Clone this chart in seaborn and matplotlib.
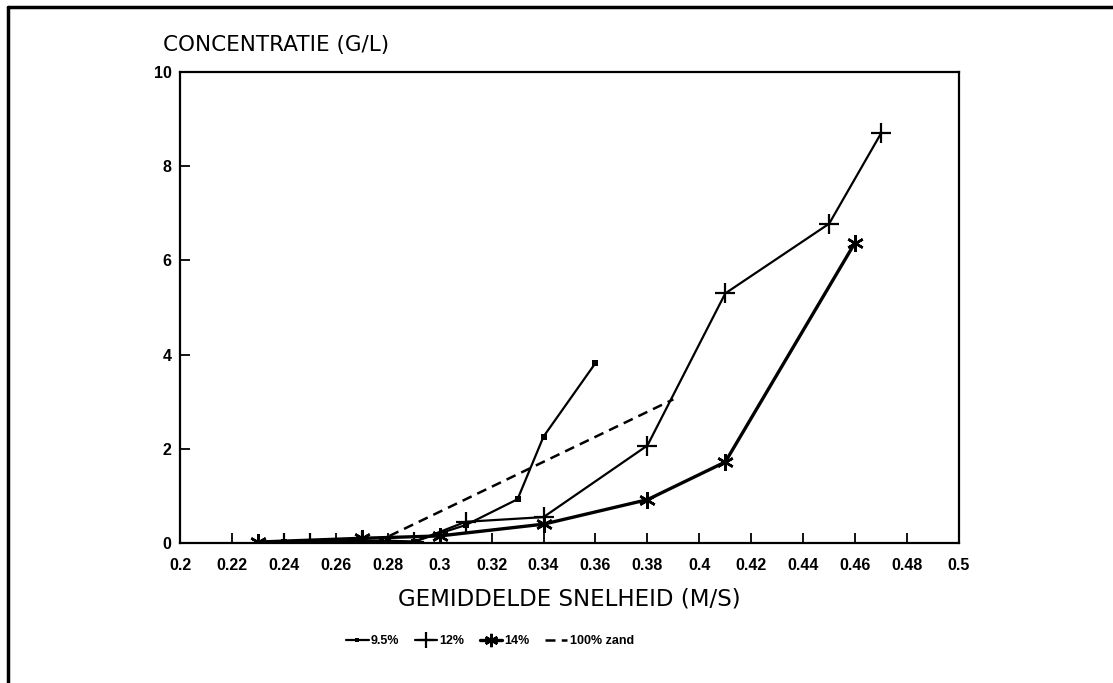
import matplotlib
matplotlib.use("Agg")
import matplotlib.pyplot as plt
from matplotlib.lines import Line2D
import seaborn as sns

# ---- data ----
x_95 = [0.24, 0.28, 0.29, 0.31, 0.33, 0.34, 0.36]
y_95 = [0.02, 0.05, 0.03, 0.38, 0.93, 2.26, 3.82]

x_12 = [0.24, 0.25, 0.27, 0.29, 0.31, 0.34, 0.38, 0.41, 0.45, 0.47]
y_12 = [0.0, 0.0, 0.05, 0.02, 0.45, 0.55, 2.07, 5.30, 6.78, 8.70]

x_14 = [0.23, 0.27, 0.30, 0.34, 0.38, 0.41, 0.46]
y_14 = [0.02, 0.10, 0.15, 0.40, 0.92, 1.72, 6.38]

x_zand = [0.275, 0.39]
y_zand = [0.0, 3.05]

labels = ["9.5%", "12%", "14%", "100% zand"]
x_ticks = [0.2, 0.22, 0.24, 0.26, 0.28, 0.3, 0.32, 0.34, 0.36, 0.38, 0.4,
           0.42, 0.44, 0.46, 0.48, 0.5]
x_ticklabels = ["0.2", "0.22", "0.24", "0.26", "0.28", "0.3", "0.32", "0.34",
                "0.36", "0.38", "0.4", "0.42", "0.44", "0.46", "0.48", "0.5"]
y_ticks = [0, 2, 4, 6, 8, 10]
x_label = "GEMIDDELDE SNELHEID (M/S)"
y_label = "CONCENTRATIE (G/L)"

sns.set_theme(style="white")
tick_font = ["Liberation Sans", "DejaVu Sans"]
plt.rcParams["font.family"] = ["DejaVu Sans"]
plt.rcParams["text.color"] = "black"

fig = plt.figure(figsize=(11.13, 6.83), dpi=100)
ax = fig.add_axes([180 / 1113, 1 - 543 / 683, (959 - 180) / 1113, (543 - 72) / 683])

sns.lineplot(x=x_95, y=y_95, ax=ax, color="black", sort=False, lw=1.6,
             marker="s", markersize=4, markeredgewidth=0, mfc="black", mec="black",
             label=labels[0])
sns.lineplot(x=x_12, y=y_12, ax=ax, color="black", sort=False, lw=1.6,
             marker="+", markersize=14, markeredgewidth=1.6, mec="black",
             label=labels[1])
sns.lineplot(x=x_14, y=y_14, ax=ax, color="black", sort=False, lw=2.4,
             marker=(6, 2, 0), markersize=12, markeredgewidth=1.8, mec="black",
             label=labels[2])
sns.lineplot(x=x_zand, y=y_zand, ax=ax, color="black", sort=False, lw=1.8,
             linestyle=(0, (4, 2.5)), label=labels[3])

ax.set_xlim(0.2, 0.5)
ax.set_ylim(0, 10)
ax.set_xticks(x_ticks)
ax.set_xticklabels(x_ticklabels)
ax.set_yticks(y_ticks)
for lab in ax.get_xticklabels() + ax.get_yticklabels():
    lab.set_fontfamily(tick_font)
    lab.set_fontweight("bold")
    lab.set_fontsize(11.5)
    lab.set_color("black")
ax.tick_params(axis="both", direction="in", length=7, width=1.3, color="black",
               bottom=True, left=True, labelcolor="black")
ax.tick_params(axis="x", pad=11)
ax.tick_params(axis="y", pad=6)
for s in ax.spines.values():
    s.set_color("black")
    s.set_linewidth(1.6)

ax.set_xlabel(x_label, fontsize=16.5, labelpad=10, color="black")
ax.set_ylabel("")
ax.text(-0.022, 1.057, y_label, transform=ax.transAxes, ha="left", va="center",
        fontsize=15.5, color="black")

ax.get_legend().remove()
handles, lbls = ax.get_legend_handles_labels()
leg = fig.legend(handles, lbls, loc="center", bbox_to_anchor=(490 / 1113, 1 - 641 / 683),
                 ncol=4, frameon=False, handlelength=1.8, handletextpad=0.2,
                 columnspacing=1.2, markerscale=0.8,
                 prop={"family": tick_font, "weight": "bold", "size": 9})
for t in leg.get_texts():
    t.set_color("black")

# page frame (scan border)
fig.add_artist(Line2D([8 / 1113, 8 / 1113], [0, 1 - 7 / 683], transform=fig.transFigure,
                      color="black", lw=2.5))
fig.add_artist(Line2D([8 / 1113, 1], [1 - 7 / 683, 1 - 7 / 683], transform=fig.transFigure,
                      color="black", lw=2.5))

fig.savefig("out.png", dpi=100, facecolor="white")
